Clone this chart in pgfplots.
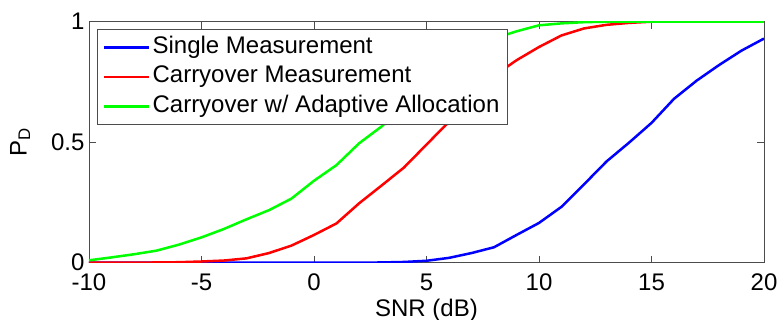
\documentclass[border=0pt]{standalone}
\usepackage{fontspec}
\setmainfont{Liberation Sans}
\usepackage{pgfplots}
\pgfplotsset{compat=1.18}
\newcommand{\bigf}{\fontsize{24}{28}\selectfont}
\definecolor{axgray}{rgb}{0.3,0.3,0.3}
\begin{document}
\begin{tikzpicture}
\begin{axis}[
  name=ax,
  scale only axis,
  width=675pt, height=241pt,
  xmin=-10, xmax=20, ymin=0, ymax=1,
  xtick={-10,-5,0,5,10,15,20},
  ytick={0,0.5,1},
  tick align=inside,
  major tick length=7pt,
  axis line style={axgray, line width=0.8pt},
  every tick/.style={axgray, line width=0.8pt},
  /pgf/number format/assume math mode=true,
  tick label style={font=\bigf},
  xticklabel style={yshift=-8pt},
  yticklabel style={xshift=-1pt},
  label style={font=\bigf},
  xlabel={SNR (dB)},
  ylabel={P\textsubscript{D}},
  xlabel style={yshift=-4pt, inner sep=0pt},
  ylabel style={yshift=14pt},
  legend style={at={(0.0114,0.970)}, anchor=north west, font=\bigf,
    draw=axgray, line width=0.8pt, inner xsep=6pt, inner ysep=5pt,
    row sep=3.5pt, cells={anchor=west},
    nodes={inner sep=2pt, text height=17pt, text depth=5pt}},
  legend image code/.code={\draw[#1, line width=2.5pt] (0pt,0pt) -- (45pt,0pt);},
  every axis plot/.append style={line width=2.5pt},
]
\addplot[color={rgb,255:red,0;green,0;blue,255}] coordinates {
(-10,0) (-9,0) (-8,0) (-7,0) (-6,0) (-5,0) (-4,0) (-3,0) (-2,0) (-1,0) (0,0)
(1,0) (2,0) (3,0.001) (4,0.003) (5,0.008) (6,0.02) (7,0.04) (8,0.064)
(9,0.115) (10,0.165) (11,0.232) (12,0.325) (13,0.42) (14,0.498) (15,0.58)
(16,0.68) (17,0.755) (18,0.82) (19,0.88) (20,0.93)};
\addlegendentry{Single Measurement}
\addplot[color={rgb,255:red,255;green,0;blue,0}] coordinates {
(-10,0) (-9,0) (-8,0) (-7,0.001) (-6,0.002) (-5,0.005) (-4,0.009) (-3,0.018)
(-2,0.04) (-1,0.071) (0,0.115) (1,0.163) (2,0.246) (3,0.32) (4,0.395)
(5,0.49) (6,0.585) (7,0.68) (8,0.775) (9,0.84) (10,0.895) (11,0.943)
(12,0.972) (13,0.987) (14,0.995) (15,1) (16,1) (17,1) (18,1) (19,1) (20,1)};
\addlegendentry{Carryover Measurement}
\addplot[color={rgb,255:red,0;green,255;blue,0}] coordinates {
(-10,0.01) (-9,0.022) (-8,0.035) (-7,0.05) (-6,0.075) (-5,0.105) (-4,0.14)
(-3,0.18) (-2,0.218) (-1,0.266) (0,0.34) (1,0.405) (2,0.495) (3,0.565)
(4,0.65) (5,0.74) (6,0.82) (7,0.88) (8,0.93) (9,0.96) (10,0.985) (11,0.993)
(12,0.998) (13,1) (14,1) (15,1) (16,1) (17,1) (18,1) (19,1) (20,1)};
\addlegendentry{Carryover w/ Adaptive Allocation}
\end{axis}
\pgfresetboundingbox
\path ([shift={(-89pt,-57.3pt)}]ax.south west) rectangle ([shift={(15pt,21.7pt)}]ax.north east);
\end{tikzpicture}
\end{document}
